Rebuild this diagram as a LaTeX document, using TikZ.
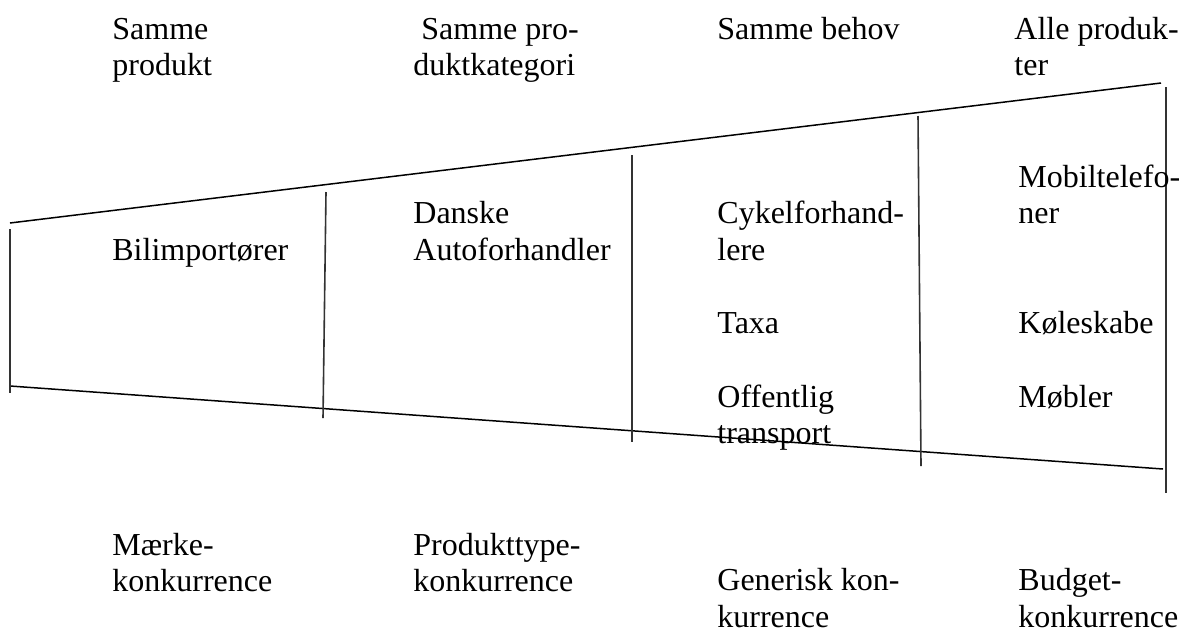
\documentclass[tikz,border=0pt]{standalone}
\usepackage{fontspec}
\setmainfont{Liberation Serif}
\begin{document}
\begin{tikzpicture}[x=0.5pt,y=-0.5pt,
  lbl/.style={anchor=base west, inner sep=0pt, font=\fontsize{16}{18}\selectfont},
  edge/.style={line width=0.75pt, black},
  divider/.style={line width=0.8pt, black!80}]
\useasboundingbox (0,0) rectangle (1187,633);
% funnel outline
\coordinate (tl) at (10,223);
\coordinate (tr) at (1161,83);
\coordinate (bl) at (10,386);
\coordinate (br) at (1163,469);
\draw[edge] (tl) -- (tr);
\draw[edge] (bl) -- (br);
% dividers
\coordinate (v1t) at (10,229);  \coordinate (v1b) at (10,393);
\coordinate (v2t) at (326,192); \coordinate (v2b) at (323,418);
\coordinate (v3t) at (632,155); \coordinate (v3b) at (632,442);
\coordinate (v4t) at (918,116); \coordinate (v4b) at (921,466);
\coordinate (v5t) at (1166,87); \coordinate (v5b) at (1166,493);
\draw[divider] (v1t) -- (v1b);
\draw[divider] (v2t) -- (v2b);
\draw[divider] (v3t) -- (v3b);
\draw[divider] (v4t) -- (v4b);
\draw[divider] (v5t) -- (v5b);
% headers
\node[lbl] (h1a) at (112,39) {Samme};
\node[lbl] (h1b) at (112,75) {produkt};
\node[lbl] (h2a) at (413,39) {\ Samme pro-};
\node[lbl] (h2b) at (413,75) {duktkategori};
\node[lbl] (h3a) at (717,39) {Samme behov};
\node[lbl] (h4a) at (1014,39) {Alle produk-};
\node[lbl] (h4b) at (1014,75) {ter};
% inside
\node[lbl] (c1a) at (112,260) {Bilimportører};
\node[lbl] (c2a) at (413,223) {Danske};
\node[lbl] (c2b) at (413,260) {Autoforhandler};
\node[lbl] (c3a) at (717,223) {Cykelforhand-};
\node[lbl] (c3b) at (717,260) {lere};
\node[lbl] (c3c) at (717,333) {Taxa};
\node[lbl] (c3d) at (717,407) {Offentlig};
\node[lbl] (c3e) at (717,443) {transport};
\node[lbl] (c4a) at (1018,187) {Mobiltelefo-};
\node[lbl] (c4b) at (1018,223) {ner};
\node[lbl] (c4c) at (1018,333) {Køleskabe};
\node[lbl] (c4d) at (1018,407) {Møbler};
% footers
\node[lbl] (f1a) at (112,555) {Mærke-};
\node[lbl] (f1b) at (112,591) {konkurrence};
\node[lbl] (f2a) at (413,555) {Produkttype-};
\node[lbl] (f2b) at (413,591) {konkurrence};
\node[lbl] (f3a) at (717,590) {Generisk kon-};
\node[lbl] (f3b) at (717,627) {kurrence};
\node[lbl] (f4a) at (1018,590) {Budget-};
\node[lbl] (f4b) at (1018,627) {konkurrence};
\end{tikzpicture}
\end{document}
